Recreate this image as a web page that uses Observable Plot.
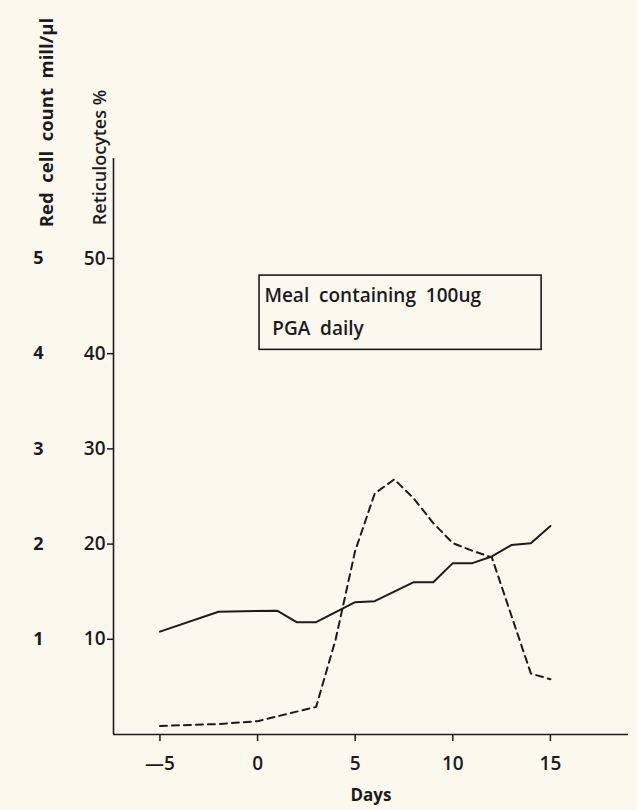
<!DOCTYPE html>
<html>
<head>
<meta charset="utf-8">
<script src="https://cdn.jsdelivr.net/npm/d3@7"></script>
<script src="https://cdn.jsdelivr.net/npm/@observablehq/plot@0.6"></script>
<style>
  html, body { margin: 0; padding: 0; background: #fbf8ee; }
  #chart svg text { font-family: "Open Sans", Lato, sans-serif; }
</style>
</head>
<body>
<div id="chart"></div>
<script>
// Days of observation
const redCellDays = [-5, -2, 1, 2, 3, 5, 6, 7, 8, 9, 10, 11, 12, 13, 14, 15];
// Red cell count, mill/µl (solid line; plotted on the ×10 reticulocyte scale)
const redCellCount = [1.08, 1.29, 1.30, 1.18, 1.18, 1.39, 1.40, 1.50, 1.60, 1.60, 1.80, 1.80, 1.87, 1.99, 2.01, 2.19];

const reticDays = [-5, -2, 0, 1, 2, 3, 4, 5, 6, 7, 8, 9, 10, 11, 12, 13, 14, 15];
// Reticulocytes % (dashed line)
const reticPct = [0.9, 1.1, 1.4, 1.9, 2.4, 2.9, 10.0, 19.3, 25.3, 26.8, 24.8, 22.2, 20.1, 19.3, 18.6, 12.5, 6.4, 5.8];

const reticTicks = [10, 20, 30, 40, 50];
const redCellTicks = [1, 2, 3, 4, 5];
const dayTicks = [-5, 0, 5, 10, 15];

const sp = "\u00a0 ";
const xLabel = "Days";
const reticLabel = "Reticulocytes %";
const redCellLabel = "Red\u00a0 cell\u00a0 count" + sp + "mill/\u00b5l";
const noteLines = ["Meal" + sp + "containing" + sp + "100ug", "PGA" + sp + "daily"];
const noteBox = [{x1: 0.1, x2: 14.55, y1: 40.4, y2: 48.2}];

const xDomain = [-7.38, 19];
const ink = "#1b1b1b";

const redCell = redCellDays.map((d, i) => ({day: d, v: redCellCount[i] * 10}));
const retic = reticDays.map((d, i) => ({day: d, v: reticPct[i]}));

const chart = Plot.plot({
  width: 637,
  height: 810,
  marginLeft: 113,
  marginRight: 9,
  marginTop: 158,
  marginBottom: 76,
  style: {background: "transparent", color: ink, fontFamily: "'Open Sans', sans-serif", overflow: "visible"},
  x: {domain: xDomain},
  y: {domain: [0, 60.5]},
  marks: [
    Plot.ruleX([xDomain[0]], {stroke: ink, strokeWidth: 1.6}),
    Plot.ruleY([0], {stroke: ink, strokeWidth: 1.6}),
    Plot.axisY(reticTicks, {anchor: "left", tickSize: 6, tickPadding: 2, fontSize: 19, fontWeight: 600, label: null, stroke: ink, strokeWidth: 1.5}),
    Plot.axisY(reticTicks, {anchor: "left", tickSize: 0, tickPadding: 70, tickFormat: d => redCellTicks[reticTicks.indexOf(d)], fontSize: 18, fontWeight: 700, label: null}),
    Plot.axisX(dayTicks, {anchor: "bottom", tickSize: 7, tickPadding: 15, fontSize: 19, fontWeight: 600, label: null, stroke: ink, strokeWidth: 1.5,
      tickFormat: d => d < 0 ? "\u2014" + (-d) : String(d)}),
    Plot.text([xLabel], {frameAnchor: "bottom", dy: 66, fontSize: 17, fontWeight: 700, fill: ink}),
    Plot.text([reticLabel], {frameAnchor: "top-left", textAnchor: "middle", dx: -20, dy: -1, rotate: -90, fontSize: 18, fontWeight: 600, fill: ink}),
    Plot.text([redCellLabel], {frameAnchor: "top-left", textAnchor: "middle", dx: -74, dy: -36, rotate: -90, fontSize: 18.5, fontWeight: 700, fill: ink}),
    Plot.rect(noteBox, {x1: "x1", x2: "x2", y1: "y1", y2: "y2", fill: "none", stroke: ink, strokeWidth: 1.6}),
    Plot.text([noteLines[0]], {x: 0.35, y: 46.1, textAnchor: "start", fontSize: 19, fontWeight: 600, fill: ink}),
    Plot.text([noteLines[1]], {x: 0.75, y: 42.6, textAnchor: "start", fontSize: 19, fontWeight: 600, fill: ink}),
    Plot.line(retic, {x: "day", y: "v", stroke: ink, strokeWidth: 2, strokeDasharray: "7,5"}),
    Plot.line(redCell, {x: "day", y: "v", stroke: ink, strokeWidth: 2})
  ]
});
document.getElementById("chart").appendChild(chart);
</script>
</body>
</html>
